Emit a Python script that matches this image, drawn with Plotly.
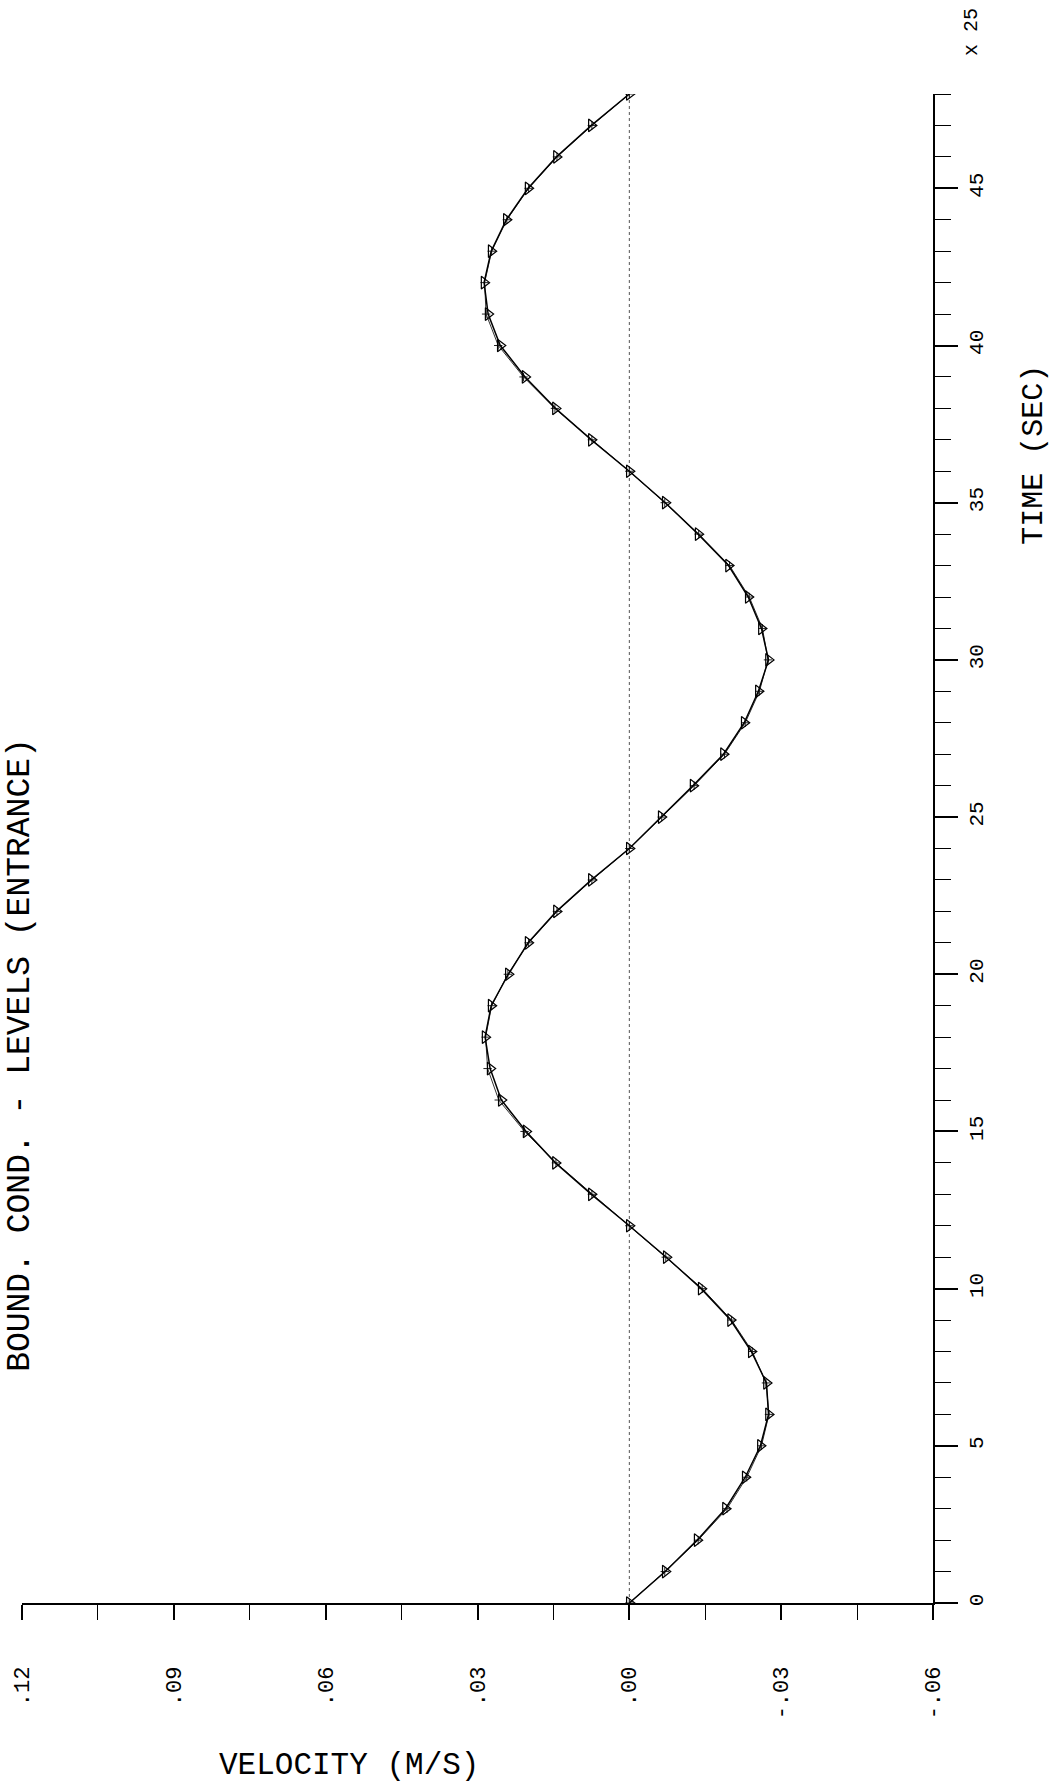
import plotly.graph_objects as go

# ---- data (time in units of 25 s, velocity in m/s) ----
time = list(range(49))
vel_a = [0.0000, -0.0071, -0.0134, -0.0190, -0.0229, -0.0259, -0.0275, -0.0271, -0.0241, -0.0200, -0.0142, -0.0073, 0.0000,
         0.0075, 0.0146, 0.0204, 0.0253, 0.0275, 0.0285, 0.0273, 0.0239, 0.0200, 0.0144, 0.0075, 0.0000,
         -0.0063, -0.0126, -0.0186, -0.0227, -0.0255, -0.0275, -0.0261, -0.0235, -0.0196, -0.0136, -0.0071, 0.0000,
         0.0075, 0.0146, 0.0206, 0.0255, 0.0279, 0.0287, 0.0273, 0.0243, 0.0200, 0.0144, 0.0075, 0.0000]
vel_b = [0.0000, -0.0070, -0.0136, -0.0193, -0.0232, -0.0261, -0.0276, -0.0270, -0.0243, -0.0202, -0.0144, -0.0072, 0.0000,
         0.0074, 0.0145, 0.0207, 0.0258, 0.0280, 0.0284, 0.0272, 0.0240, 0.0199, 0.0143, 0.0074, 0.0000,
         -0.0064, -0.0128, -0.0188, -0.0229, -0.0257, -0.0274, -0.0263, -0.0237, -0.0198, -0.0137, -0.0070, 0.0000,
         0.0074, 0.0147, 0.0209, 0.0259, 0.0283, 0.0286, 0.0272, 0.0242, 0.0199, 0.0143, 0.0074, 0.0000]
zero_line_x = [0.0, 0.0]
zero_line_t = [0, 48]

vel_tickvals = [0.12, 0.09, 0.06, 0.03, 0.00, -0.03, -0.06]
vel_ticktext = [".12", ".09", ".06", ".03", ".00", "-.03", "-.06"]
time_tickvals = [0, 5, 10, 15, 20, 25, 30, 35, 40, 45]
time_ticktext = ["0", "5", "10", "15", "20", "25", "30", "35", "40", "45"]

title_text = "BOUND. COND. - LEVELS (ENTRANCE)"
vel_label = "VELOCITY (M/S)"
time_label = "TIME (SEC)"
scale_label = "x 25"

FONT = "Liberation Mono"

fig = go.Figure()
fig.add_trace(go.Scatter(x=zero_line_x, y=zero_line_t, mode="lines",
                         line=dict(color="#555555", width=1, dash="dot"), showlegend=False))
fig.add_trace(go.Scatter(x=vel_b, y=time, mode="lines+markers",
                         line=dict(color="#333333", width=1),
                         marker=dict(symbol="cross-thin", size=6, line=dict(width=1, color="#222222")),
                         showlegend=False))
fig.add_trace(go.Scatter(x=vel_a, y=time, mode="lines+markers",
                         line=dict(color="black", width=1.5),
                         marker=dict(symbol="triangle-right-open", size=11, color="black",
                                     line=dict(width=1.2, color="black")),
                         showlegend=False))

fig.update_layout(
    width=1056, height=1785,
    margin=dict(l=22, r=123, t=94, b=182),
    plot_bgcolor="white", paper_bgcolor="white",
    font=dict(family=FONT, color="black"),
    xaxis=dict(range=[0.12, -0.06], showgrid=False, zeroline=False,
               showline=True, linecolor="black", linewidth=1.5,
               ticks="outside", ticklen=15, tickwidth=1.5, tickcolor="black",
               tickvals=vel_tickvals, ticktext=vel_ticktext, tickangle=-90,
               tickfont=dict(size=22, family=FONT), ticklabelstandoff=38,
               minor=dict(dtick=0.015, ticks="outside", ticklen=15, tickwidth=1.2, tickcolor="black")),
    yaxis=dict(range=[0, 48], side="right", showgrid=False, zeroline=False,
               showline=True, linecolor="black", linewidth=1.5,
               ticks="outside", ticklen=23, tickwidth=1.5, tickcolor="black",
               tickvals=time_tickvals, ticktext=time_ticktext, tickangle=-90,
               tickfont=dict(size=21, family=FONT), ticklabelstandoff=0,
               minor=dict(dtick=1, ticks="outside", ticklen=16, tickwidth=1.2, tickcolor="black")),
    annotations=[
        dict(text=title_text, xref="paper", yref="paper", x=-0.024, y=0.363,
             textangle=-90, showarrow=False, xanchor="left", yanchor="middle",
             font=dict(size=33, family=FONT)),
        dict(text=vel_label, xref="paper", yref="paper", x=0.359, y=-0.108,
             showarrow=False, xanchor="center", yanchor="middle",
             font=dict(size=31, family=FONT)),
        dict(text=time_label, xref="paper", yref="paper", x=1.111, y=0.761,
             textangle=-90, showarrow=False, xanchor="center", yanchor="middle",
             font=dict(size=30, family=FONT)),
        dict(text=scale_label, xref="paper", yref="paper", x=1.0417, y=1.041,
             textangle=-90, showarrow=False, xanchor="center", yanchor="middle",
             font=dict(size=20, family=FONT)),
    ],
)

fig.write_html("out.html")
